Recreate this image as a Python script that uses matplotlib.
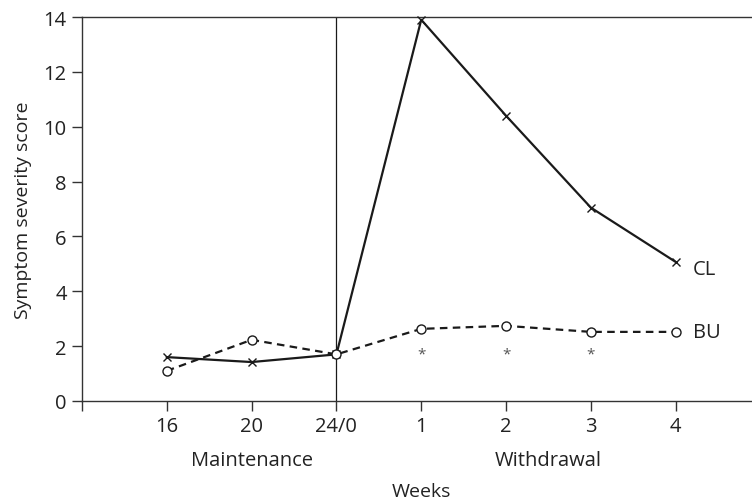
import matplotlib
matplotlib.use('Agg')
import matplotlib.pyplot as plt
import matplotlib.transforms as mtransforms

# Data
week_labels = ['16', '20', '24/0', '1', '2', '3', '4']
cl_scores = [1.6, 1.42, 1.7, 13.9, 10.4, 7.05, 5.07]
bu_scores = [1.1, 2.23, 1.7, 2.63, 2.74, 2.52, 2.52]
star_weeks = [3, 4, 5]   # positions marked with *
star_level = 1.7

plt.rcParams['font.family'] = ['Open Sans', 'DejaVu Sans']
text_col = '#222222'

fig = plt.figure(figsize=(7.52, 5.02), dpi=100)
ax = fig.add_axes([82 / 752, 100 / 502, 1 - 82 / 752, 384 / 502])

xs = list(range(len(week_labels)))

ax.plot(xs, cl_scores, color='#1a1a1a', lw=1.6, marker='x', ms=6,
        mew=1.0, clip_on=False, zorder=3)
ax.plot(xs, bu_scores, color='#1a1a1a', lw=1.6, ls=(0, (3.4, 2.4)),
        marker='o', ms=6.5, mfc='white', mew=1.0, clip_on=False, zorder=4)

# divider between maintenance and withdrawal
ax.axvline(2, color='#1a1a1a', lw=0.9, zorder=2)

for w in star_weeks:
    ax.text(w, star_level, '*', ha='center', va='center', fontsize=11,
            color='#555555')

ax.text(6.2, 4.8, 'CL', ha='left', va='center', fontsize=14.5, color=text_col)
ax.text(6.2, 2.5, 'BU', ha='left', va='center', fontsize=14.5, color=text_col)

ax.set_xlim(-1, 6.9)
ax.set_ylim(0, 14)
ax.set_xticks([-1] + xs)
ax.set_xticklabels([''] + week_labels)
ax.set_yticks(range(0, 15, 2))

ax.spines['right'].set_visible(False)
for s in ['left', 'bottom', 'top']:
    ax.spines[s].set_color('#333333')
    ax.spines[s].set_linewidth(1.0)

ax.tick_params(axis='both', direction='out', length=7, width=1.0,
               colors='#333333', labelcolor=text_col, labelsize=14.5, pad=4)

ax.set_ylabel('Symptom severity score', fontsize=14, color=text_col, labelpad=8)

trans = mtransforms.blended_transform_factory(ax.transData, ax.transAxes)
ax.text(1, -0.154, 'Maintenance', transform=trans, ha='center', va='center',
        fontsize=14.5, color=text_col)
ax.text(4.5, -0.154, 'Withdrawal', transform=trans, ha='center', va='center',
        fontsize=14.5, color=text_col)
ax.text(3, -0.234, 'Weeks', transform=trans, ha='center', va='center',
        fontsize=14, color=text_col)

fig.savefig('out.png', dpi=100)
